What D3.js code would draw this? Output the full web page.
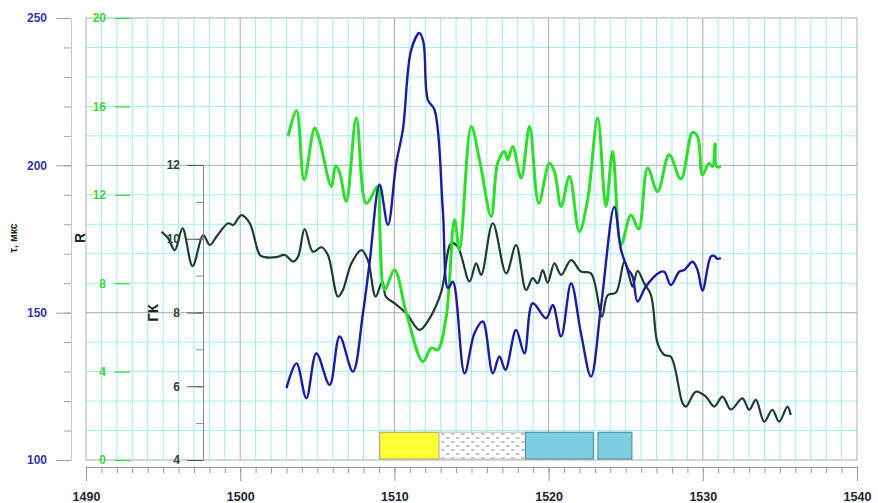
<!DOCTYPE html>
<html>
<head>
<meta charset="utf-8">
<script src="https://cdn.jsdelivr.net/npm/d3@7"></script>
<style>
    body { margin: 0; background: #fff; }
    svg { display: block; font-family: "Liberation Sans", Arial, sans-serif; }
</style>
</head>
<body>
<svg id="chart" width="878" height="503"></svg>
<script>
// depth ticks, axis ticks
const depthMajor = d3.range(1490, 1541, 10);
const depthMinor = d3.range(1490, 1541, 1);
const tauMajor = [100, 150, 200, 250];
const tauMinor = d3.range(100, 251, 10);
const rTicks = [0, 4, 8, 12, 16, 20];
const gkMajor = [4, 6, 8, 10, 12];
const gkMinor = d3.range(4, 13, 1);

// R (green), [depth, value]
const rSeries = [
    [1503.10, 14.64], [1503.65, 15.82], [1504.14, 12.68], [1504.83, 15.02], [1505.11, 14.57],
    [1505.91, 12.38], [1506.19, 13.31], [1506.45, 13.00], [1506.88, 11.70], [1507.53, 15.47],
    [1508.18, 11.62], [1508.93, 12.38], [1509.04, 10.73], [1509.37, 7.70], [1510.01, 8.60],
    [1510.77, 6.66], [1511.85, 4.45], [1512.39, 5.07], [1512.80, 4.98], [1513.36, 6.49],
    [1513.90, 10.87], [1514.22, 9.51], [1514.98, 15.09], [1515.52, 13.58], [1516.28, 11.02],
    [1516.70, 13.45], [1517.14, 13.96], [1517.35, 13.58], [1517.67, 14.19], [1518.22, 12.76],
    [1518.76, 15.09], [1519.36, 11.62], [1520.05, 13.43], [1520.38, 13.05], [1520.81, 11.47],
    [1521.35, 12.83], [1521.99, 10.34], [1522.53, 11.77], [1523.18, 15.47], [1523.72, 11.47],
    [1524.15, 13.96], [1524.70, 9.74], [1525.34, 11.09], [1525.84, 10.45], [1526.42, 13.21],
    [1527.07, 12.15], [1527.82, 13.81], [1528.58, 12.71], [1529.33, 14.82], [1529.66, 14.64],
    [1529.98, 12.90], [1530.41, 13.43], [1530.63, 13.28], [1530.80, 14.31], [1530.89, 13.28],
    [1531.17, 13.28]
];

// tau, mks (blue)
const tauSeries = [
    [1503.00, 124.4], [1503.65, 132.8], [1504.29, 121.0], [1504.94, 136.2], [1505.80, 125.5],
    [1506.45, 141.9], [1507.31, 130.0], [1507.96, 149.8], [1508.39, 166.9], [1509.04, 193.4],
    [1509.58, 179.8], [1510.12, 200.8], [1510.55, 212.1], [1511.09, 239.2], [1511.63, 244.9],
    [1511.89, 241.6], [1512.17, 222.2], [1512.60, 218.9], [1513.14, 184.9], [1513.47, 158.3],
    [1513.79, 160.5], [1514.55, 129.4], [1515.19, 143.0], [1515.73, 147.0], [1516.38, 129.4],
    [1516.81, 135.1], [1517.20, 130.6], [1517.89, 144.1], [1518.43, 136.2], [1518.97, 153.2],
    [1519.84, 148.1], [1520.27, 152.6], [1520.81, 141.9], [1521.46, 160.0], [1522.10, 143.0],
    [1522.75, 128.3], [1523.40, 152.1], [1524.26, 185.9], [1524.70, 171.3], [1525.12, 165.1],
    [1525.45, 162.2], [1525.77, 153.8], [1526.31, 158.9], [1527.18, 163.6], [1527.50, 163.9],
    [1527.93, 159.4], [1528.47, 163.9], [1528.80, 164.5], [1529.33, 167.3], [1529.66, 164.5],
    [1529.98, 157.5], [1530.52, 169.0], [1530.74, 169.3], [1530.93, 168.3], [1531.17, 168.5]
];

// GK (dark green)
const gkSeries = [
    [1494.90, 10.19], [1495.33, 10.01], [1495.76, 9.69], [1496.26, 10.28], [1496.91, 9.26],
    [1497.60, 10.10], [1498.03, 9.83], [1498.47, 10.06], [1499.22, 10.42], [1499.54, 10.37],
    [1500.08, 10.64], [1500.62, 10.42], [1501.27, 9.56], [1501.59, 9.50], [1502.35, 9.50],
    [1502.89, 9.56], [1503.43, 9.38], [1503.75, 9.51], [1504.18, 10.26], [1504.72, 9.65],
    [1505.27, 9.77], [1505.69, 9.56], [1506.34, 8.43], [1506.66, 8.61], [1507.21, 9.33],
    [1507.86, 9.69], [1508.28, 9.42], [1508.78, 8.43], [1509.22, 8.84], [1509.45, 8.43],
    [1510.01, 8.25], [1510.77, 7.98], [1511.63, 7.53], [1512.28, 7.84], [1513.04, 8.56],
    [1513.69, 9.88], [1514.11, 9.78], [1514.87, 8.84], [1515.30, 9.33], [1515.63, 9.02],
    [1516.38, 10.42], [1517.25, 9.06], [1517.89, 9.83], [1518.54, 8.61], [1518.97, 8.93],
    [1519.29, 8.79], [1519.62, 9.15], [1519.94, 8.81], [1520.38, 9.33], [1520.81, 9.02],
    [1521.46, 9.42], [1522.10, 9.11], [1522.75, 9.06], [1523.46, 7.89], [1523.83, 8.47],
    [1524.37, 8.54], [1524.91, 9.38], [1525.23, 8.97], [1525.45, 8.70], [1525.77, 9.13],
    [1526.20, 8.79], [1526.64, 8.47], [1527.07, 7.16], [1527.50, 6.85], [1527.93, 6.80],
    [1528.69, 5.54], [1528.91, 5.45], [1529.55, 5.85], [1530.20, 5.72], [1530.74, 5.45],
    [1531.28, 5.72], [1531.82, 5.37], [1532.57, 5.67], [1533.01, 5.36], [1533.44, 5.63],
    [1533.98, 5.04], [1534.51, 5.36], [1534.95, 5.04], [1535.49, 5.45], [1535.70, 5.22]
];

// lithology intervals
const lithFrom = [1509.05, 1512.9, 1518.5, 1523.2];
const lithTo = [1512.9, 1518.5, 1522.9, 1525.4];
const lithType = ["yellow", "dotted", "blue", "blue"];

// styling
const plot = {left: 86, right: 857, top: 18, bottom: 460};
const fonts = "Liberation Sans, Arial, sans-serif";
const cyan = "#a2edf0";
const gridGray = "#ababab";
const lineGreen = "#2bdf2b";
const lineBlue = "#1c1ca6";
const lineDark = "#1c3d33";

const svg = d3.select("#chart");

const x = d3.scaleLinear().domain([1490, 1540]).range([plot.left, plot.right]);
const yTau = d3.scaleLinear().domain([100, 250]).range([plot.bottom, plot.top]);
const yR = d3.scaleLinear().domain([0, 20]).range([plot.bottom, plot.top]);
const yGK = d3.scaleLinear().domain([4, 12]).range([plot.bottom, 165]);

// pattern for the dotted interval
const defs = svg.append("defs");
const pat = defs.append("pattern")
    .attr("id", "dots")
    .attr("patternUnits", "userSpaceOnUse")
    .attr("width", 10).attr("height", 8);
pat.append("rect").attr("width", 10).attr("height", 8).attr("fill", "#fff");
pat.append("line").attr("x1", 1).attr("x2", 4.5).attr("y1", 2).attr("y2", 2)
    .attr("stroke", "#8c8c8c").attr("stroke-width", 1);
pat.append("line").attr("x1", 6).attr("x2", 9.5).attr("y1", 6).attr("y2", 6)
    .attr("stroke", "#8c8c8c").attr("stroke-width", 1);

// grid
const grid = svg.append("g").attr("class", "grid");

grid.selectAll(".vcyan")
    .data(depthMinor.filter(d => d % 10 !== 0))
    .join("line")
    .attr("x1", d => x(d)).attr("x2", d => x(d))
    .attr("y1", plot.top).attr("y2", plot.bottom)
    .attr("stroke", cyan).attr("stroke-width", 1);

grid.selectAll(".hcyan")
    .data(tauMinor.filter(d => d % 50 !== 0))
    .join("line")
    .attr("x1", plot.left).attr("x2", plot.right)
    .attr("y1", d => yTau(d)).attr("y2", d => yTau(d))
    .attr("stroke", cyan).attr("stroke-width", 1);

grid.selectAll(".vgray")
    .data(depthMajor.slice(1, -1))
    .join("line")
    .attr("x1", d => x(d)).attr("x2", d => x(d))
    .attr("y1", plot.top).attr("y2", plot.bottom)
    .attr("stroke", gridGray).attr("stroke-width", 1);

grid.selectAll(".hgray")
    .data(tauMajor.slice(1, -1))
    .join("line")
    .attr("x1", plot.left).attr("x2", plot.right)
    .attr("y1", d => yTau(d)).attr("y2", d => yTau(d))
    .attr("stroke", gridGray).attr("stroke-width", 1);

grid.append("rect")
    .attr("x", plot.left).attr("y", plot.top)
    .attr("width", plot.right - plot.left).attr("height", plot.bottom - plot.top)
    .attr("fill", "none").attr("stroke", gridGray).attr("stroke-width", 1);

// lithology column
const lith = lithFrom.map((d, i) => ({from: d, to: lithTo[i], type: lithType[i]}));
const lithFill = {yellow: "#ffff33", dotted: "url(#dots)", blue: "#7dcfe2"};
const lithStroke = {yellow: "#b0b070", dotted: "#c8c8c8", blue: "#5d8f9c"};

svg.append("g").selectAll("rect")
    .data(lith)
    .join("rect")
    .attr("x", d => x(d.from))
    .attr("width", d => x(d.to) - x(d.from))
    .attr("y", yTau(109.4))
    .attr("height", yTau(100) - yTau(109.4) - 1)
    .attr("fill", d => lithFill[d.type])
    .attr("stroke", d => lithStroke[d.type])
    .attr("stroke-width", 1.2);

// curves
const line = y => d3.line()
    .x(d => x(d[0]))
    .y(d => y(d[1]))
    .curve(d3.curveCatmullRom.alpha(0.5));

svg.append("path").datum(gkSeries)
    .attr("d", line(yGK))
    .attr("fill", "none").attr("stroke", lineDark).attr("stroke-width", 2.2)
    .attr("stroke-linejoin", "round");

svg.append("path").datum(rSeries)
    .attr("d", line(yR))
    .attr("fill", "none").attr("stroke", lineGreen).attr("stroke-width", 3)
    .attr("stroke-linejoin", "round");

svg.append("path").datum(tauSeries)
    .attr("d", line(yTau))
    .attr("fill", "none").attr("stroke", lineBlue).attr("stroke-width", 2.4)
    .attr("stroke-linejoin", "round");

// tau axis (blue)
const tauAxisX = 71;
svg.append("g")
    .attr("transform", `translate(${tauAxisX},0)`)
    .call(d3.axisLeft(yTau).tickValues(tauMinor).tickSize(7).tickFormat("").tickSizeOuter(0))
    .call(g => g.select(".domain").attr("stroke", "#c4c4ea"))
    .call(g => g.selectAll(".tick line").attr("stroke", "#a0a0a0"));

svg.append("g")
    .attr("transform", `translate(${tauAxisX},0)`)
    .call(d3.axisLeft(yTau).tickValues(tauMajor).tickSize(15).tickPadding(9).tickSizeOuter(0))
    .call(g => g.select(".domain").remove())
    .call(g => g.selectAll(".tick line").attr("stroke", "#a0a0a0"))
    .call(g => g.selectAll("text")
        .attr("fill", "#3434a8").attr("font-size", 12).attr("font-weight", "bold")
        .attr("font-family", fonts));

// R axis (green)
svg.append("g")
    .attr("transform", "translate(130,0)")
    .call(d3.axisLeft(yR).tickValues(rTicks).tickSize(15).tickPadding(9).tickSizeOuter(0))
    .call(g => g.select(".domain").remove())
    .call(g => g.selectAll(".tick line").attr("stroke", lineGreen).attr("stroke-width", 1.2))
    .call(g => g.selectAll("text")
        .attr("fill", "#3bd83b").attr("font-size", 12).attr("font-weight", "bold")
        .attr("font-family", fonts));

// GK axis (dark)
const gkAxisX = 203;
svg.append("g")
    .attr("transform", `translate(${gkAxisX},0)`)
    .call(d3.axisLeft(yGK).tickValues(gkMinor).tickSize(7).tickFormat("").tickSizeOuter(0))
    .call(g => g.select(".domain").attr("stroke", "#888"))
    .call(g => g.selectAll(".tick line").attr("stroke", "#888"));

svg.append("g")
    .attr("transform", `translate(${gkAxisX},0)`)
    .call(d3.axisLeft(yGK).tickValues(gkMajor).tickSize(16).tickPadding(7).tickSizeOuter(0))
    .call(g => g.select(".domain").remove())
    .call(g => g.selectAll(".tick line").attr("stroke", "#555"))
    .call(g => g.selectAll("text")
        .attr("fill", "#1f4a3c").attr("font-size", 12).attr("font-weight", "bold")
        .attr("font-family", fonts));

// depth ruler
const rulerY = 467;
svg.append("g")
    .attr("transform", `translate(0,${rulerY})`)
    .call(d3.axisBottom(x).tickValues(depthMinor).tickSize(6).tickFormat("").tickSizeOuter(0))
    .call(g => g.select(".domain").attr("stroke", "#999"))
    .call(g => g.selectAll(".tick line").attr("stroke", "#999"));

svg.append("g")
    .attr("transform", `translate(0,${rulerY})`)
    .call(d3.axisBottom(x).tickValues(depthMajor).tickSize(14).tickPadding(11)
        .tickFormat(d3.format("d")).tickSizeOuter(0))
    .call(g => g.select(".domain").remove())
    .call(g => g.selectAll(".tick line").attr("stroke", "#999"))
    .call(g => g.selectAll("text")
        .attr("fill", "#222233").attr("font-size", 12.5).attr("font-weight", "bold")
        .attr("font-family", fonts));

// axis titles
const title = (tx, ty, txt, size, weight) => svg.append("text")
    .attr("transform", `translate(${tx},${ty}) rotate(-90)`)
    .attr("text-anchor", "middle")
    .attr("dominant-baseline", "central")
    .attr("font-size", size)
    .attr("font-weight", weight)
    .attr("fill", "#222")
    .text(txt);

title(13, 238, "τ, мкс", 10.5, "bold");
title(80, 238, "R", 14, "bold");
title(152, 313, "ГК", 15, "bold");
</script>
</body>
</html>
